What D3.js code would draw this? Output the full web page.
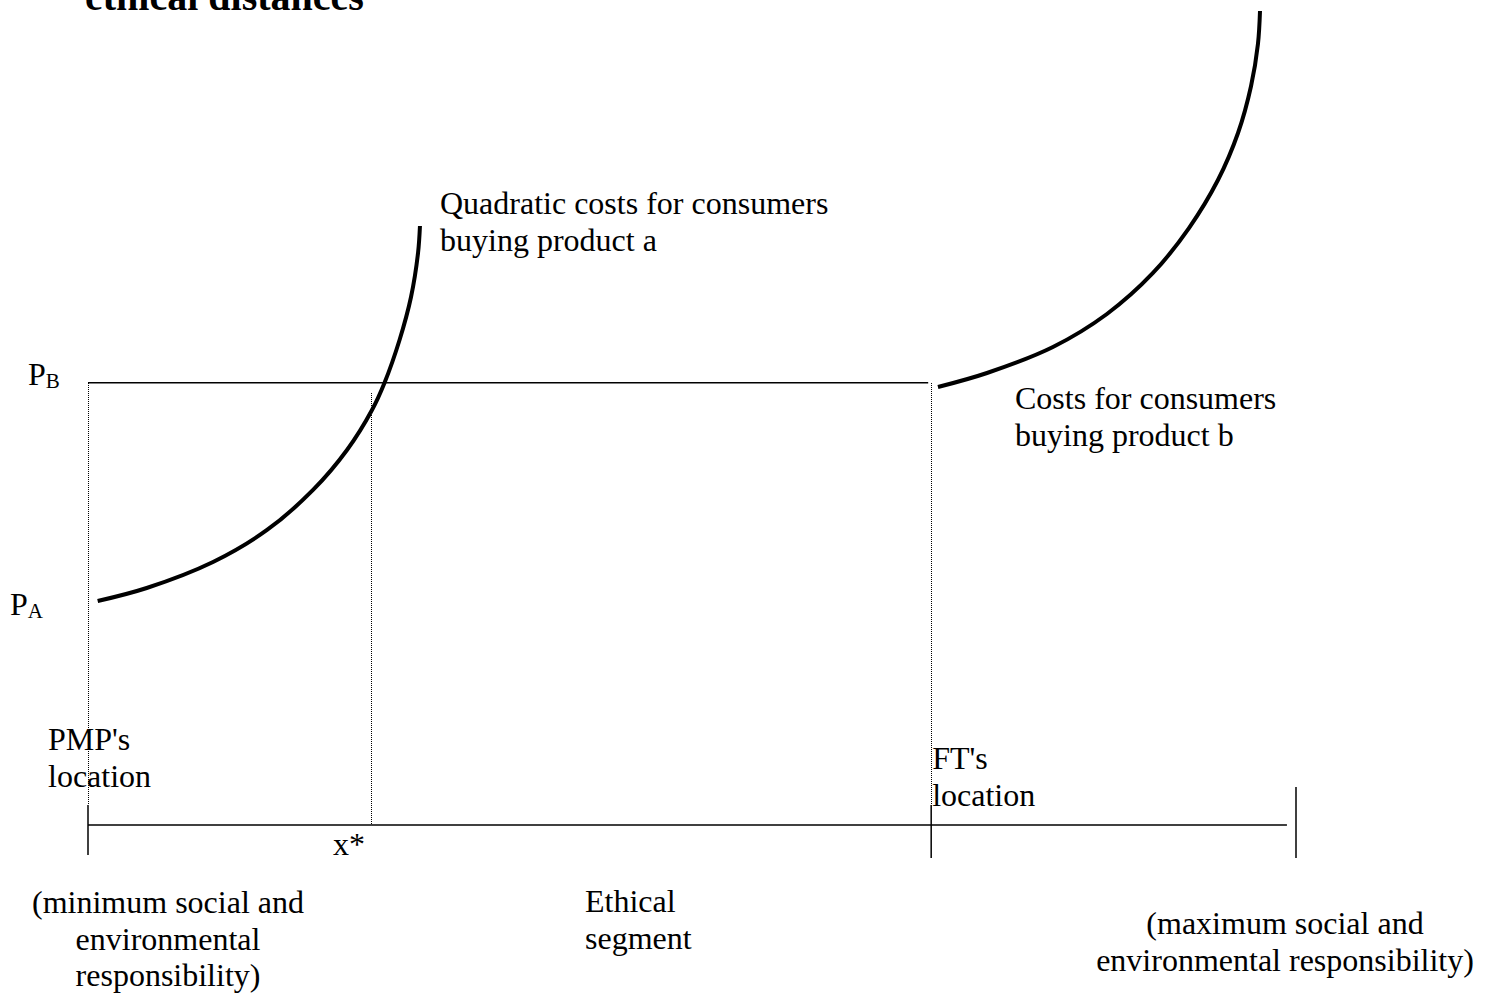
<!DOCTYPE html>
<html>
<head>
<meta charset="utf-8">
<style>
/*	page and text styles	*/
html, body {
  margin: 0;
  padding: 0;
  background: #fff;
}

svg {
  display: block;
}

.lbl {
  font-family: "Liberation Serif", "Times New Roman", serif;
  font-size: 32px;
  fill: #000;
}

.title {
  font-family: "Liberation Serif", "Times New Roman", serif;
  font-size: 40px;
  font-weight: bold;
  fill: #000;
}

.cost {
  fill: none;
  stroke: #000;
  stroke-width: 4px;
}

.solid {
  stroke: #000;
  stroke-width: 1.5px;
}

.dotted {
  stroke: #000;
  stroke-width: 1px;
  stroke-dasharray: 1,1;
  shape-rendering: crispEdges;
}
</style>
</head>
<body>
<svg id="chart" width="1490" height="997"></svg>

<script src="https://cdn.jsdelivr.net/npm/d3@7"></script>
<script>

//	data: ethical distance (0 = PMP, 100 = max responsibility), cost units
var locations = [0, 69.8, 100];        // PMP, FT, maximum
var xStar = 23.5;
var axisEnd = 99.25;
var priceA = 27.2, priceB = 53.6;

var costAx = [0.80, 4.86, 10.35, 14.82, 18.63, 21.44, 23.51, 24.54, 25.79, 26.74, 27.32, 27.48];
var costAy = [27.15, 28.73, 31.88, 35.76, 40.61, 45.45, 50.30, 53.58, 58.79, 64.00, 69.33, 72.61];

var costBx = [70.36, 74.42, 79.88, 84.35, 88.16, 91.14, 93.54, 95.20, 96.28, 96.85, 97.02];
var costBy = [53.09, 54.79, 57.94, 61.94, 66.91, 72.36, 78.18, 83.88, 89.58, 94.67, 98.67];

//	labels
var titleText = "ethical distances";
var curveALabel = ["Quadratic costs for consumers", "buying product a"];
var curveBLabel = ["Costs for consumers", "buying product b"];
var pmpLabel = ["PMP's", "location"];
var ftLabel = ["FT's", "location"];
var minLabel = ["(minimum social and", "environmental", "responsibility)"];
var segLabel = ["Ethical", "segment"];
var maxLabel = ["(maximum social and", "environmental responsibility)"];

var svg = d3.select("#chart");
var lineH = 36.5;

//	scales
var x = d3.scaleLinear().domain([0, 100]).range([88, 1296]);
var y = d3.scaleLinear().domain([0, 100]).range([825, 0]);

var curve = d3.line()
  .x(function(d) { return x(d[0]); })
  .y(function(d) { return y(d[1]); })
  .curve(d3.curveCatmullRom.alpha(0.5));

//	multi-line label helper
function label(lines, px, py, anchor) {
  var t = svg.append("text")
    .attr("class", "lbl")
    .attr("text-anchor", anchor || "start");
  lines.forEach(function(s, i) {
    t.append("tspan").attr("x", px).attr("y", py + i * lineH).text(s);
  });
  return t;
}

//	title (cut at the top, as in the source page)
svg.append("text")
  .attr("class", "title")
  .attr("x", 85)
  .attr("y", 10)
  .text(titleText);

//	dotted guides
svg.append("line").attr("class", "dotted")
  .attr("x1", x(locations[0])).attr("x2", x(locations[0]))
  .attr("y1", y(priceB)).attr("y2", 805);
svg.append("line").attr("class", "dotted")
  .attr("x1", x(xStar)).attr("x2", x(xStar))
  .attr("y1", 393).attr("y2", y(0));
svg.append("line").attr("class", "dotted")
  .attr("x1", x(locations[1])).attr("x2", x(locations[1]))
  .attr("y1", y(priceB)).attr("y2", 805);

//	price of product b
svg.append("line").attr("class", "solid")
  .attr("x1", x(0)).attr("x2", x(locations[1]) - 3)
  .attr("y1", y(priceB)).attr("y2", y(priceB));

//	horizontal segment and its ticks
svg.append("line").attr("class", "solid")
  .attr("x1", x(0)).attr("x2", x(axisEnd))
  .attr("y1", y(0)).attr("y2", y(0));

var tickTop = [805, 805, 787], tickBottom = [855, 858, 858];
svg.selectAll(".tick")
  .data(locations)
  .enter().append("line")
  .attr("class", "solid tick")
  .attr("x1", function(d) { return x(d); })
  .attr("x2", function(d) { return x(d); })
  .attr("y1", function(d, i) { return tickTop[i]; })
  .attr("y2", function(d, i) { return tickBottom[i]; });

//	cost curves
svg.append("path").attr("class", "cost")
  .attr("d", curve(d3.zip(costAx, costAy)));
svg.append("path").attr("class", "cost")
  .attr("d", curve(d3.zip(costBx, costBy)));

//	price labels
var pb = svg.append("text").attr("class", "lbl").attr("x", 28).attr("y", y(priceB) + 2);
pb.append("tspan").text("P");
pb.append("tspan").attr("dy", 3).style("font-size", "21px").text("B");

var pa = svg.append("text").attr("class", "lbl").attr("x", 10).attr("y", y(priceA) + 14);
pa.append("tspan").text("P");
pa.append("tspan").attr("dy", 3).style("font-size", "21px").text("A");

//	curve labels
label(curveALabel, 440, 214);
label(curveBLabel, 1015, 409);

//	location labels
label(pmpLabel, 48, 750);
label(ftLabel, x(locations[1]) + 1, 769);

svg.append("text").attr("class", "lbl")
  .attr("x", 333).attr("y", 855)
  .text("x*");

//	bottom notes
label(minLabel, 168, 913, "middle");
label(segLabel, 585, 912);
label(maxLabel, 1285, 934, "middle");

</script>
</body>
</html>
